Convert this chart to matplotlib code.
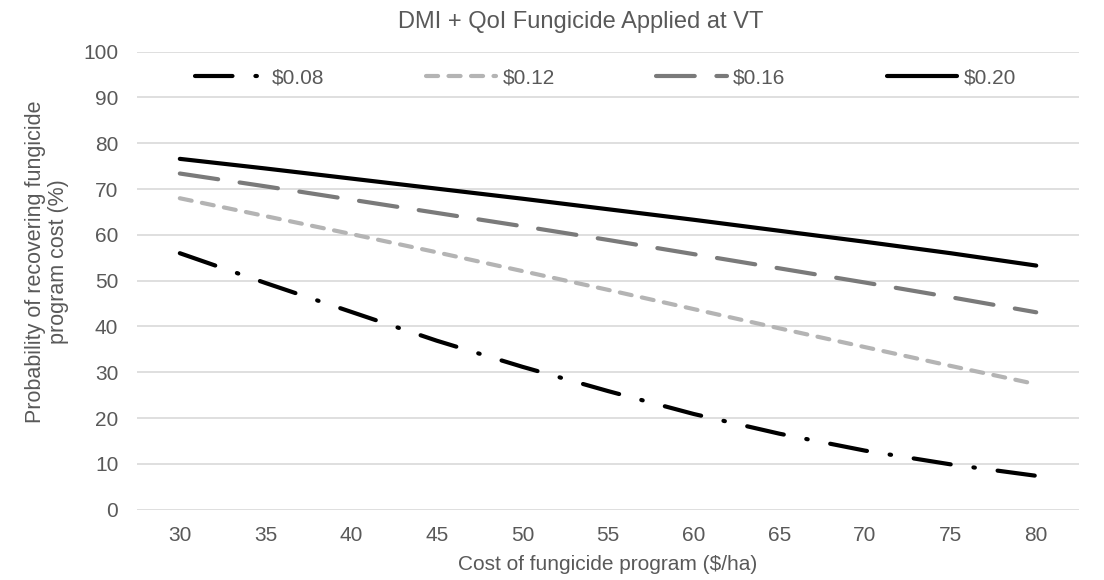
import numpy as np
import matplotlib.pyplot as plt

plt.switch_backend('Agg')
plt.rcParams['font.family'] = ['Liberation Sans', 'DejaVu Sans']

# cost of fungicide program ($/ha)
costs = [30, 35, 40, 45, 50, 55, 60, 65, 70, 75, 80]

# probability of recovering program cost (%) per grain price
p_008 = [56.0, 49.5, 43.2, 36.9, 31.2, 25.9, 20.9, 16.6, 12.9, 9.9, 7.4]
p_012 = [68.0, 64.1, 60.2, 56.2, 52.1, 48.0, 43.8, 39.6, 35.5, 31.4, 27.4]
p_016 = [73.4, 70.6, 67.7, 64.8, 61.9, 58.9, 55.8, 52.7, 49.6, 46.4, 43.1]
p_020 = [76.6, 74.5, 72.3, 70.1, 67.9, 65.6, 63.3, 60.9, 58.5, 56.0, 53.3]

labels = ['$0.08', '$0.12', '$0.16', '$0.20']
yticks = [0, 10, 20, 30, 40, 50, 60, 70, 80, 90, 100]

text_col = '#595959'
fs = 15

fig = plt.figure(figsize=(11.04, 5.8), dpi=100)
ax = fig.add_axes([0.1241, 0.1212, 0.8533, 0.7897])

x = np.arange(len(costs))
lw = 3.0
styles = [
    dict(color='black', dashes=(9, 5.5, 0.35, 5.5)),
    dict(color='#b4b4b4', dashes=(2.9, 2.5)),
    dict(color='#7a7a7a', dashes=(9.3, 5.2)),
    dict(color='black'),
]
series = [p_008, p_012, p_016, p_020]
for vals, lab, st in zip(series, labels, styles):
    ax.plot(x, vals, lw=lw, label=lab, solid_capstyle='round',
            dash_capstyle='round', **st)

ax.set_xlim(-0.5, len(costs) - 0.5)
ax.set_ylim(0, 100)
ax.set_xticks(x)
ax.set_xticklabels([str(c) for c in costs])
ax.set_yticks(yticks)
ax.tick_params(axis='both', length=0, labelsize=fs, labelcolor=text_col)
ax.tick_params(axis='y', pad=13.5)
ax.tick_params(axis='x', pad=12)
ax.grid(axis='y', color='#d9d9d9', lw=1.2)
ax.set_axisbelow(True)
for s in ax.spines.values():
    s.set_visible(False)

leg = ax.legend(ncol=4, loc='center left', bbox_to_anchor=(0.0616, 0.943),
                frameon=False, fontsize=fs, handlelength=3.4,
                handletextpad=0.3, columnspacing=4.85, borderpad=0,
                borderaxespad=0)
for t in leg.get_texts():
    t.set_color(text_col)

fig.text(581 / 1104, 1 - 22 / 580, 'DMI + QoI Fungicide Applied at VT',
         ha='center', va='center', fontsize=17, color=text_col)
fig.text(608 / 1104, 1 - 565 / 580, 'Cost of fungicide program ($/ha)',
         ha='center', va='center', fontsize=fs, color=text_col)
fig.text(47 / 1104, 1 - 262 / 580,
         'Probability of recovering fungicide\nprogram cost (%)',
         ha='center', va='center', rotation=90, fontsize=15.5, color=text_col,
         linespacing=1.15)

fig.savefig('out.png', dpi=100)
